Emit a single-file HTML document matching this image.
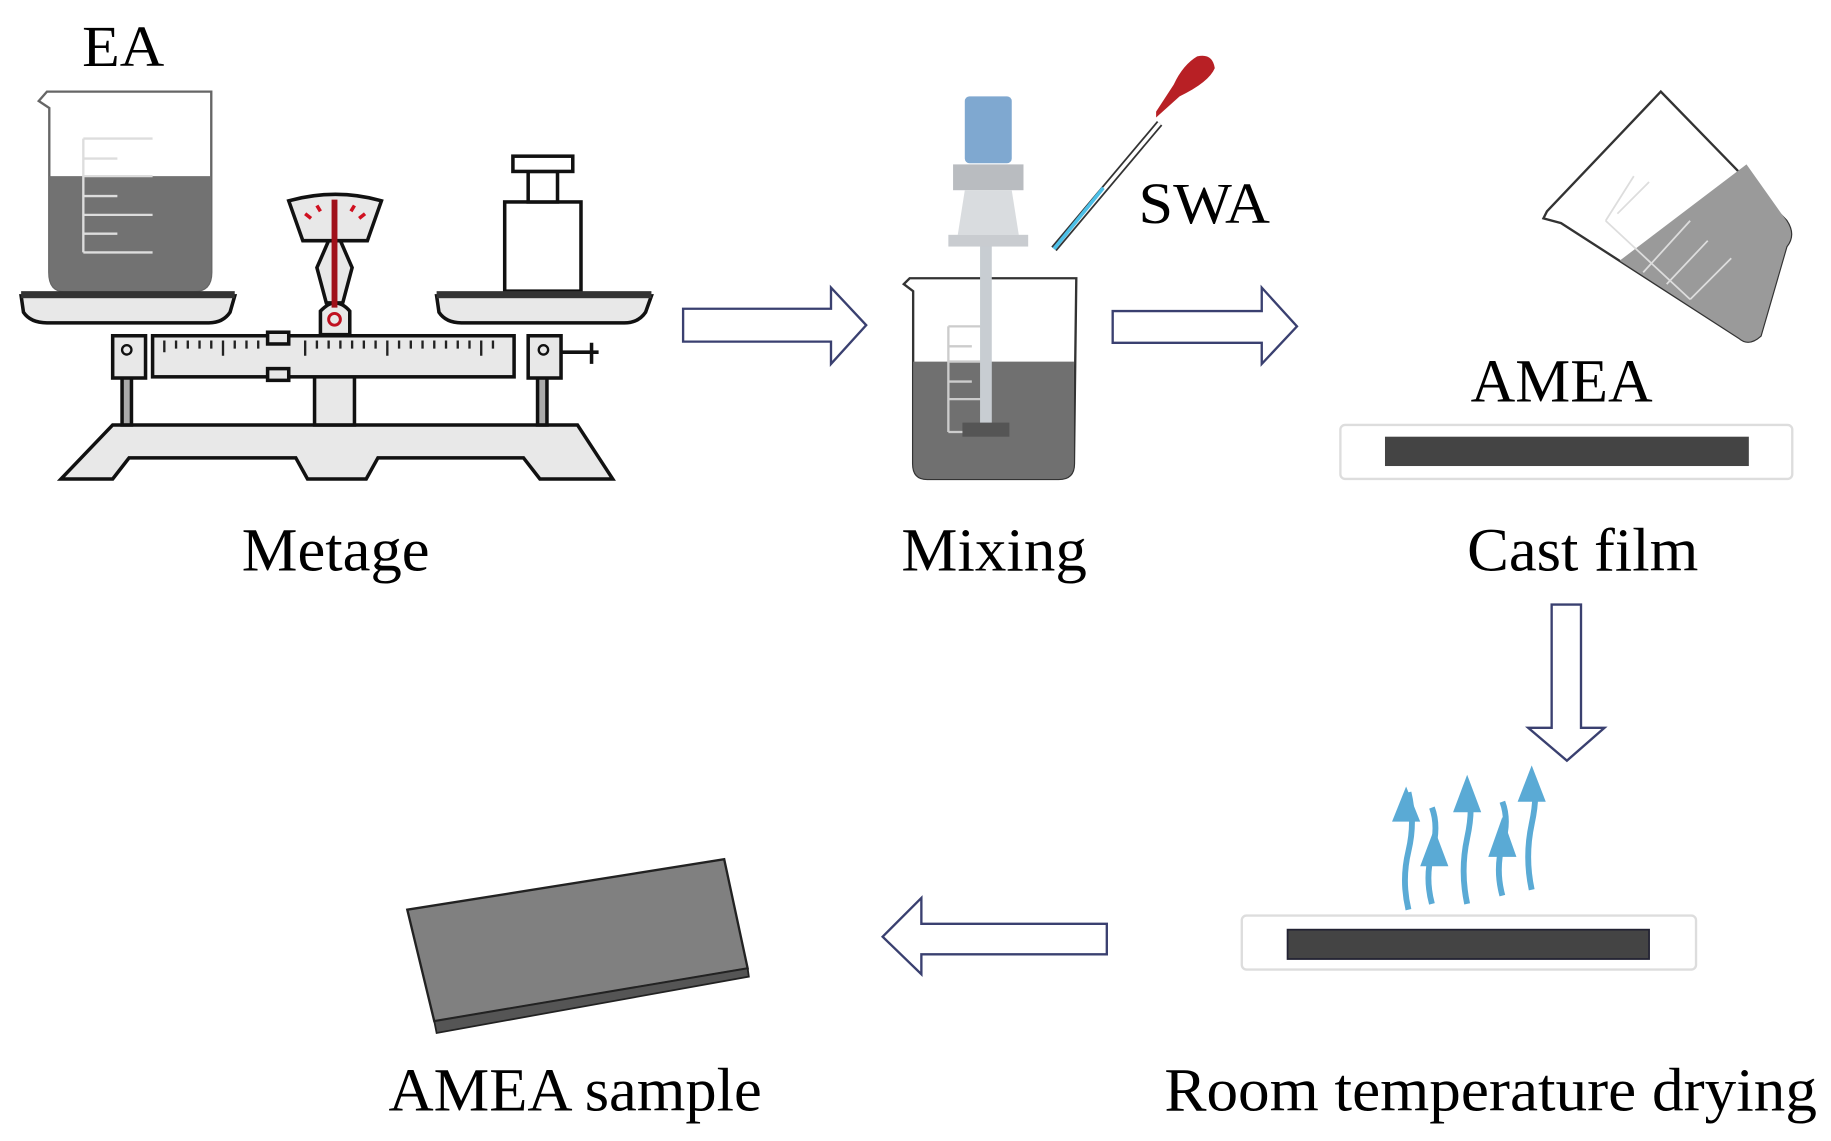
<!DOCTYPE html>
<html><head><meta charset="utf-8"><style>html,body{margin:0;padding:0;background:#fff}svg{display:block}</style></head>
<body>
<svg width="1831" height="1141" viewBox="0 0 1560 972" xmlns="http://www.w3.org/2000/svg" font-family="Liberation Serif, serif">
<rect width="1560" height="972" fill="#fff"/>
<!-- EA beaker -->
<text x="70" y="56" font-size="50" textLength="70" lengthAdjust="spacingAndGlyphs">EA</text>
<path d="M40 78 L180 78 L180 232 Q180 248 165 248 L55 248 Q42 248 42 232 L42 92 L33 86 L40 78Z" fill="#fff" stroke="#666" stroke-width="2"/>
<path d="M42 150 L180 150 L180 232 Q180 248 165 248 L55 248 Q42 248 42 232Z" fill="#727272"/>
<g stroke="#ddd" stroke-width="2"><path d="M71 118 V215 M71 118 H130 M71 135 H100 M71 150 H130 M71 167 H100 M71 183 H130 M71 199 H100 M71 215 H130"/></g>
<!-- balance -->
<g stroke="#111" stroke-width="3" fill="#e8e8e8">
<path d="M52 408 L96 362 L492 362 L522 408 L460 408 L446 390 L322 390 L312 408 L262 408 L252 390 L110 390 L96 408Z"/>
<rect x="268" y="320" width="34" height="42"/>
<rect x="104" y="318" width="8" height="44" fill="#aaa"/>
<rect x="458" y="318" width="8" height="44" fill="#aaa"/>
<path d="M18 252 L200 252 L196 266 Q190 275 178 275 L40 275 Q26 275 20 266Z"/>
<path d="M372 252 L555 252 L550 266 Q544 275 532 275 L393 275 Q380 275 374 266Z"/>
<rect x="130" y="286" width="308" height="35"/>
<rect x="96" y="286" width="28" height="36"/>
<rect x="450" y="286" width="28" height="36"/>
<rect x="228" y="283" width="18" height="10"/>
<rect x="228" y="314" width="18" height="10"/>
<path d="M478 300 H510 M504 292 V310" fill="none"/>
<path d="M273 285 L273 265 Q280 258 285 258 Q292 258 298 265 L298 285Z"/>
<path d="M278 258 L270 228 L280 205 L290 205 L300 228 L292 258Z"/>
<path d="M246 171 Q286 160 325 171 L313 205 L258 205Z"/>
<rect x="430" y="172" width="65" height="76" fill="#fff"/>
<rect x="450" y="146" width="25" height="26" fill="#fff"/>
<rect x="437" y="133" width="51" height="13" fill="#fff"/>
</g>
<rect x="18" y="248" width="182" height="6" fill="#333"/><rect x="372" y="248" width="183" height="6" fill="#333"/>
<g stroke="#222" stroke-width="2"><path d="M140 290 V300 M150 290 V297 M160 290 V297 M170 290 V297 M180 290 V297 M190 290 V303 M200 290 V297 M210 290 V297 M220 290 V297 M260 290 V303 M270 290 V297 M280 290 V297 M290 290 V297 M300 290 V297 M310 290 V297 M320 290 V297 M330 290 V303 M340 290 V297 M350 290 V297 M360 290 V297 M370 290 V297 M380 290 V297 M390 290 V297 M400 290 V297 M410 290 V303 M420 290 V297"/></g>
<circle cx="108" cy="298" r="4" fill="none" stroke="#111" stroke-width="2"/><circle cx="463" cy="298" r="4" fill="none" stroke="#111" stroke-width="2"/>
<line x1="285" y1="170" x2="285" y2="262" stroke="#a0101a" stroke-width="5"/>
<circle cx="285" cy="272" r="5" fill="none" stroke="#c01020" stroke-width="2.5"/>
<g stroke="#d01020" stroke-width="3"><path d="M260 182 l5 4 M270 175 l3 5 M302 175 l-3 5 M311 182 l-5 4"/></g>
<text x="206" y="486" font-size="52" textLength="160" lengthAdjust="spacingAndGlyphs">Metage</text>
<!-- arrows -->
<g fill="#fff" stroke="#3a4070" stroke-width="2">
<path d="M582 263 H708 V245 L738 277 L708 310 V291 H582Z"/>
<path d="M948 265 H1075 V245 L1105 278 L1075 310 V292 H948Z"/>
<path d="M1322 515 H1347 V620 H1367 L1335 648 L1302 620 H1322Z"/>
<path d="M943 787 H785 V765 L752 798 L785 830 V813 H943Z"/>
</g>
<!-- mixing -->
<path d="M775 237 L917 237 L915 395 Q915 408 902 408 L790 408 Q778 408 778 395 L778 248 L770 242Z" fill="#fff" stroke="#333" stroke-width="2"/>
<path d="M778 308 L915 308 L915 395 Q915 408 902 408 L790 408 Q778 408 778 395Z" fill="#707070"/>
<g stroke="#ccc" stroke-width="2"><path d="M808 278 V368 M808 278 H843 M808 295 H828 M808 308 H843 M808 325 H828 M808 340 H843 M808 368 H843"/></g>
<rect x="835" y="205" width="10" height="165" fill="#c8cdd2"/>
<rect x="820" y="360" width="40" height="12" fill="#555"/>
<rect x="822" y="82" width="40" height="57" rx="4" fill="#7fa8d0"/>
<rect x="812" y="140" width="60" height="22" fill="#b9bcc0"/>
<path d="M822 162 L862 162 L868 200 L816 200Z" fill="#d9dcdf"/>
<rect x="808" y="200" width="68" height="10" fill="#c9ccd0"/>
<line x1="898" y1="212" x2="988" y2="105" stroke="#333" stroke-width="6"/>
<line x1="898" y1="212" x2="988" y2="105" stroke="#fff" stroke-width="3"/>
<line x1="898" y1="212" x2="940" y2="160" stroke="#4cc0e8" stroke-width="3"/>
<path d="M985 100 L1005 82 Q1030 70 1035 58 Q1033 45 1020 48 Q1008 55 1000 72 L985 95Z" fill="#b82025"/>
<text x="970" y="190" font-size="50" textLength="112" lengthAdjust="spacingAndGlyphs">SWA</text>
<text x="768" y="486" font-size="52" textLength="158" lengthAdjust="spacingAndGlyphs">Mixing</text>
<!-- tilted beaker -->
<path d="M1415 78 L1522 188 Q1530 200 1522 210 L1500 286 Q1490 295 1482 288 L1330 190 L1315 186 L1318 180Z" fill="#fff" stroke="#333" stroke-width="2"/>
<path d="M1488 140 L1522 188 Q1530 200 1522 210 L1500 286 Q1490 295 1482 288 L1380 222Z" fill="#9a9a9a"/>
<g stroke="#ddd" stroke-width="1.5" fill="none"><path d="M1368 188 L1440 255 M1368 188 L1392 150 M1378 182 L1405 155 M1400 232 L1440 188 M1420 242 L1455 205 M1440 255 L1475 220"/></g>
<text x="1253" y="342" font-size="52" textLength="155" lengthAdjust="spacingAndGlyphs">AMEA</text>
<rect x="1142" y="362" width="385" height="46" rx="4" fill="#fff" stroke="#ddd" stroke-width="2"/>
<rect x="1180" y="372" width="310" height="25" fill="#444"/>
<text x="1250" y="486" font-size="52" textLength="197" lengthAdjust="spacingAndGlyphs">Cast film</text>
<!-- drying -->
<g fill="none" stroke="#5aaad5" stroke-width="5">
<path d="M1200 775 q-6 -25 0 -50 q6 -25 0 -50"/>
<path d="M1220 770 q-6 -22 0 -44 q6 -22 0 -38"/>
<path d="M1250 770 q-6 -28 0 -56 q6 -28 0 -42"/>
<path d="M1280 763 q-6 -22 0 -44 q6 -20 0 -36"/>
<path d="M1305 758 q-6 -28 0 -56 q6 -28 0 -42"/>
</g>
<g fill="#5aaad5"><path d="M1186 700 L1198 670 L1210 700Z"/><path d="M1210 738 L1222 706 L1234 738Z"/><path d="M1238 692 L1250 660 L1262 692Z"/><path d="M1268 730 L1280 696 L1292 730Z"/><path d="M1293 683 L1305 652 L1317 683Z"/></g>
<rect x="1058" y="780" width="387" height="46" rx="4" fill="#fff" stroke="#ddd" stroke-width="2"/>
<rect x="1097" y="792" width="308" height="25" fill="#444" stroke="#223" stroke-width="1.5"/>
<text x="992" y="946" font-size="52" textLength="556" lengthAdjust="spacingAndGlyphs">Room temperature drying</text>
<!-- sample -->
<path d="M347 775 L617 732 L637 825 L370 870Z" fill="#808080" stroke="#222" stroke-width="2"/>
<path d="M370 870 L637 825 L638 832 L372 880Z" fill="#555" stroke="#222" stroke-width="1.5"/>
<text x="331" y="946" font-size="52" textLength="318" lengthAdjust="spacingAndGlyphs">AMEA sample</text>
</svg>
</body></html>
